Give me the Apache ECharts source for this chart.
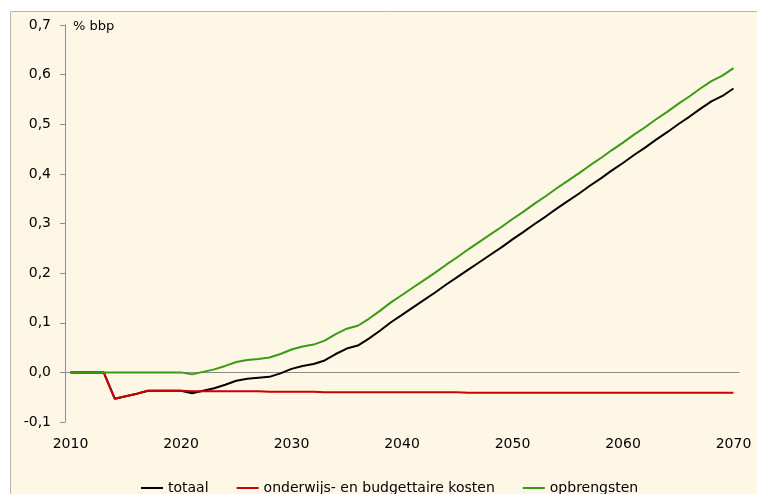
<!DOCTYPE html>
<html>
<head>
<meta charset="utf-8">
<script src="https://cdn.jsdelivr.net/npm/echarts@6/dist/echarts.min.js"></script>
<style>
  html, body { margin: 0; padding: 0; background: #fff; }
  #chart { width: 757px; height: 494px; }
</style>
</head>
<body>
<div id="chart"></div>
<script>
// jaren 2010 - 2070
const years = []
for (let y = 2010; y <= 2070; y++) years.push(String(y))

const totaal = [
  0, 0, 0, 0, -0.053, -0.048, -0.043, -0.037, -0.037, -0.037,
  -0.037, -0.042, -0.037, -0.032, -0.025, -0.017, -0.013, -0.011, -0.009, -0.002,
  0.007, 0.013, 0.017, 0.024, 0.037, 0.048, 0.054, 0.068, 0.084, 0.101,
  0.116, 0.131, 0.146, 0.161, 0.177, 0.192, 0.207, 0.222, 0.237, 0.252,
  0.268, 0.283, 0.299, 0.314, 0.330, 0.345, 0.360, 0.376, 0.391, 0.407,
  0.422, 0.438, 0.453, 0.469, 0.484, 0.500, 0.515, 0.531, 0.546, 0.557,
  0.572
]
const kosten = [
  0, 0, 0, 0, -0.053, -0.048, -0.043, -0.037, -0.037, -0.037,
  -0.037, -0.038, -0.038, -0.038, -0.038, -0.038, -0.038, -0.038, -0.039, -0.039,
  -0.039, -0.039, -0.039, -0.040, -0.040, -0.040, -0.040, -0.040, -0.040, -0.040,
  -0.040, -0.040, -0.040, -0.040, -0.040, -0.040, -0.041, -0.041, -0.041, -0.041,
  -0.041, -0.041, -0.041, -0.041, -0.041, -0.041, -0.041, -0.041, -0.041, -0.041,
  -0.041, -0.041, -0.041, -0.041, -0.041, -0.041, -0.041, -0.041, -0.041, -0.041,
  -0.041
]
const opbrengsten = [
  0, 0, 0, 0, 0, 0, 0, 0, 0, 0,
  0, -0.004, 0.001, 0.006, 0.013, 0.021, 0.025, 0.027, 0.030, 0.037,
  0.046, 0.052, 0.056, 0.064, 0.077, 0.088, 0.094, 0.108, 0.124, 0.141,
  0.156, 0.171, 0.186, 0.201, 0.217, 0.232, 0.248, 0.263, 0.278, 0.293,
  0.309, 0.324, 0.340, 0.355, 0.371, 0.386, 0.401, 0.417, 0.432, 0.448,
  0.463, 0.479, 0.494, 0.510, 0.525, 0.541, 0.556, 0.572, 0.587, 0.598,
  0.613
]

const yTicks = { min: -0.1, max: 0.7, interval: 0.1 }

const myChart = echarts.init(document.getElementById('chart'))

const txt = { fontFamily: '"DejaVu Sans", sans-serif', color: '#000' }

const options = {
  animation: false,
  backgroundColor: '#fff',
  graphic: [
    {
      type: 'rect',
      z: -10,
      shape: { x: 10.5, y: 11.5, width: 760, height: 500 },
      style: { fill: '#FFF7E6', stroke: '#B4B4B4', lineWidth: 1 }
    },
    {
      type: 'text',
      left: 73,
      top: 20,
      style: { text: '% bbp', font: '13px "DejaVu Sans", sans-serif', fill: '#000' }
    }
  ],
  grid: { left: 65, right: 18, top: 25, bottom: 72 },
  legend: {
    left: 136,
    top: 476,
    icon: 'rect',
    itemWidth: 22,
    itemHeight: 2,
    itemGap: 28,
    textStyle: { ...txt, fontSize: 14 },
    data: ['totaal', 'onderwijs- en budgettaire kosten', 'opbrengsten']
  },
  xAxis: [
    {
      type: 'category',
      data: years,
      boundaryGap: true,
      axisLine: { show: false, onZero: false },
      axisTick: { show: false },
      axisLabel: { ...txt, fontSize: 14, interval: 9, margin: 15 }
    },
    {
      // horizontale nullijn
      type: 'category',
      data: years,
      position: 'bottom',
      axisLine: { show: true, onZero: true, lineStyle: { color: '#8C8C8C', width: 1 } },
      axisTick: { show: false },
      axisLabel: { show: false }
    }
  ],
  yAxis: {
    type: 'value',
    min: yTicks.min,
    max: yTicks.max,
    interval: yTicks.interval,
    axisLine: { show: true, lineStyle: { color: '#8C8C8C' } },
    axisTick: { show: true, length: 5, lineStyle: { color: '#8C8C8C' } },
    splitLine: { show: false },
    axisLabel: {
      ...txt,
      fontSize: 14,
      margin: 14,
      formatter: v => v.toFixed(1).replace('.', ',')
    }
  },
  series: [
    {
      name: 'totaal',
      type: 'line',
      data: totaal,
      showSymbol: false,
      lineStyle: { color: '#000000', width: 2 },
      itemStyle: { color: '#000000' }
    },
    {
      name: 'onderwijs- en budgettaire kosten',
      type: 'line',
      data: kosten,
      showSymbol: false,
      lineStyle: { color: '#CC0000', width: 2 },
      itemStyle: { color: '#CC0000' }
    },
    {
      name: 'opbrengsten',
      type: 'line',
      data: opbrengsten,
      showSymbol: false,
      lineStyle: { color: '#3A9A14', width: 2 },
      itemStyle: { color: '#3A9A14' }
    }
  ]
}

myChart.setOption(options)
</script>
</body>
</html>
